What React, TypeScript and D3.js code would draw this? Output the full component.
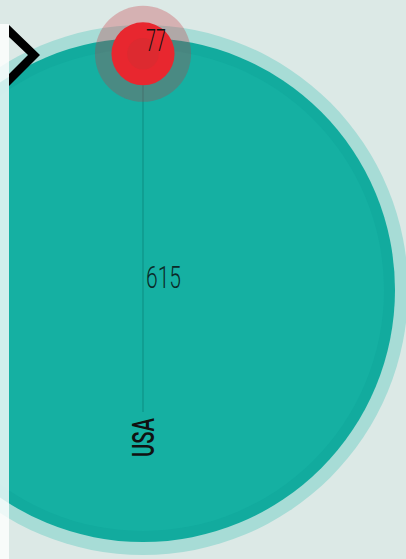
import React from "react";
import * as d3 from "d3";

// data
const countries = ["USA"];
const totalValues = [615];
const highlightValues = [77];

const W = 406;
const H = 559;

const App = () => {
  const cx = 143;
  const cy = 290;

  // radius grows linearly with the value
  const r = d3.scaleLinear().domain([0, 615]).range([0, 252]);

  const rBig = r(totalValues[0]);
  const rSmall = r(highlightValues[0]);
  const redY = cy - rBig + rSmall / 2;

  return (
    <svg
      width={W}
      height={H}
      style={{ position: "fixed", left: 0, top: 0, display: "block" }}
    >
      <rect width={W} height={H} fill="#dce9e6" />

      {countries.map((c, i) => (
        <g key={c}>
          {/* outer pale ring */}
          <circle cx={cx} cy={cy} r={rBig + 13} fill="#a7dcd6" />
          <circle cx={cx} cy={cy} r={rBig} fill="#12ab9e" />
          <circle cx={cx} cy={cy} r={rBig - 11} fill="#15b0a2" />

          {/* connector */}
          <line
            x1={cx}
            x2={cx}
            y1={redY + rSmall}
            y2={412}
            stroke="#0d8c81"
            strokeWidth={1}
          />

          {/* highlight bubble */}
          <circle
            cx={cx}
            cy={redY}
            r={rSmall + 16.5}
            fill="rgb(200,50,60)"
            fillOpacity={0.3}
          />
          <circle cx={cx} cy={redY} r={rSmall} fill="#e8272f" />
          <circle cx={cx} cy={redY} r={rSmall / 2} fill="#dd2a30" />

          <text
            x={cx + 3}
            y={redY - 3}
            fontFamily="Roboto"
            fontWeight={300}
            fontSize={32}
            textLength={20}
            lengthAdjust="spacingAndGlyphs"
            fill="#111"
          >
            {highlightValues[i]}
          </text>

          <text
            x={cx + 3}
            y={288}
            fontFamily="Roboto"
            fontWeight={300}
            fontSize={32}
            textLength={35}
            lengthAdjust="spacingAndGlyphs"
            fill="#0b2a28"
          >
            {totalValues[i]}
          </text>

          <text
            transform={`translate(${cx + 11},457) rotate(-90)`}
            fontFamily="Roboto"
            fontWeight={500}
            fontSize={31}
            textLength={39}
            lengthAdjust="spacingAndGlyphs"
            fill="#111"
          >
            {c}
          </text>
        </g>
      ))}

      {/* side panel */}
      <rect x={0} y={24} width={9} height={H - 24} fill="#fff" fillOpacity={0.8} />

      {/* nav chevron */}
      <polygon
        points="9,25 40,55 9,86 9,74 28,55 9,37"
        fill="#000"
      />
    </svg>
  );
};

export default App;
